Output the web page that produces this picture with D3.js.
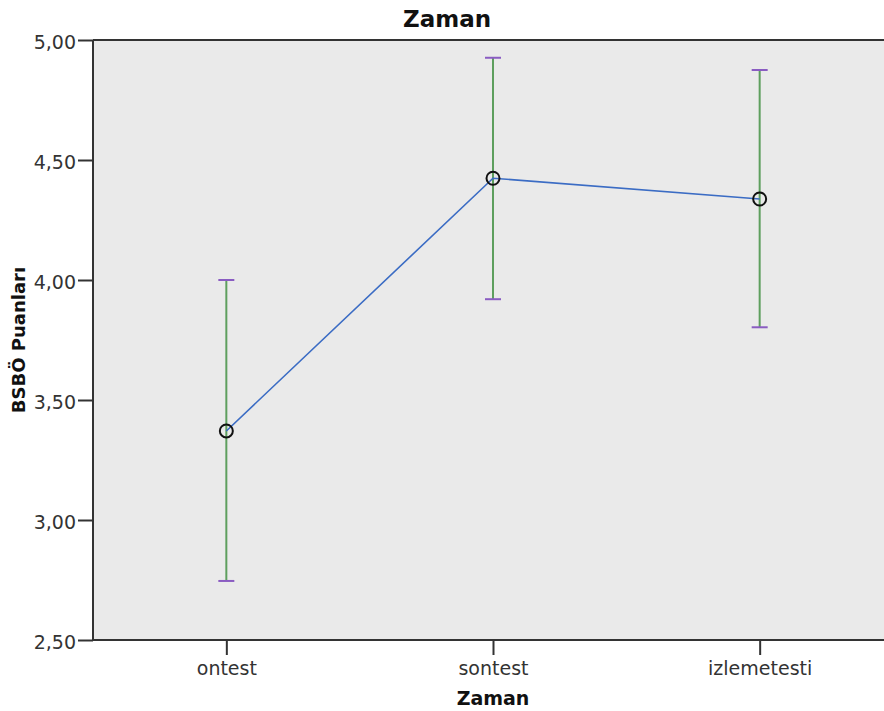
<!DOCTYPE html>
<html><head><meta charset="utf-8">
<script src="https://cdn.jsdelivr.net/npm/d3@7"></script>
<style>body{margin:0;background:#fff}svg{display:block}</style>
</head><body>
<script>
const categories = ["ontest", "sontest", "izlemetesti"];
const means = [3.371, 4.424, 4.3375];
const lower = [2.746, 3.920, 3.803];
const upper = [4.000, 4.926, 4.875];
const yTicks = [2.5, 3.0, 3.5, 4.0, 4.5, 5.0];
const title = "Zaman";
const xTitle = "Zaman";
const yTitle = "BSBÖ Puanları";

const W = 884, H = 711;
const m = {left: 93, top: 40, right: 893, bottom: 640};
const svg = d3.select("body").append("svg").attr("width", W).attr("height", H);
const x = d3.scalePoint().domain(categories).range([m.left, m.right]).padding(0.5);
const y = d3.scaleLinear().domain([2.5, 5]).range([m.bottom, m.top]);
const fmt = d => d3.format(".2f")(d).replace(".", ",");
const font = "DejaVu Sans, sans-serif";

svg.append("rect").attr("x", m.left).attr("y", m.top)
  .attr("width", m.right - m.left).attr("height", m.bottom - m.top).attr("fill", "#eaeaea");

const yAxis = svg.append("g").attr("transform", `translate(${m.left},0)`)
  .call(d3.axisLeft(y).tickValues(yTicks).tickFormat(fmt).tickSize(15).tickPadding(2));
const xAxis = svg.append("g").attr("transform", `translate(0,${m.bottom})`)
  .call(d3.axisBottom(x).tickSize(15).tickPadding(7));
[yAxis, xAxis].forEach(g => {
  g.select(".domain").attr("stroke", "#333").attr("stroke-width", 2);
  g.selectAll(".tick line").attr("stroke", "#333").attr("stroke-width", 2);
  g.selectAll("text").attr("fill", "#333").style("font-family", font).style("font-size", "19px");
});
yAxis.select(".domain").attr("d", `M0,${m.bottom}V${m.top}`);
xAxis.select(".domain").attr("d", `M${m.left},0H${m.right}`);
yAxis.selectAll(".tick text").attr("dy", "0.45em");
// top border
svg.append("line").attr("x1", m.left).attr("x2", m.right).attr("y1", m.top).attr("y2", m.top)
  .attr("stroke", "#333").attr("stroke-width", 2);

const idx = d3.range(categories.length);
const eb = svg.append("g");
eb.selectAll("line.bar").data(idx).join("line")
  .attr("x1", i => x(categories[i])).attr("x2", i => x(categories[i]))
  .attr("y1", i => y(lower[i])).attr("y2", i => y(upper[i]))
  .attr("stroke", "#5e9f5e").attr("stroke-width", 2);
[lower, upper].forEach(arr => {
  eb.append("g").selectAll("line").data(idx).join("line")
    .attr("x1", i => x(categories[i]) - 8).attr("x2", i => x(categories[i]) + 8)
    .attr("y1", i => y(arr[i])).attr("y2", i => y(arr[i]))
    .attr("stroke", "#8a5cc2").attr("stroke-width", 2);
});

svg.append("path").datum(idx)
  .attr("d", d3.line().x(i => x(categories[i])).y(i => y(means[i])))
  .attr("fill", "none").attr("stroke", "#3b6cc4").attr("stroke-width", 1.6);

svg.append("g").selectAll("circle").data(idx).join("circle")
  .attr("cx", i => x(categories[i])).attr("cy", i => y(means[i])).attr("r", 6.5)
  .attr("fill", "none").attr("stroke", "#111").attr("stroke-width", 2);

svg.append("text").attr("x", 447).attr("y", 27).attr("text-anchor", "middle")
  .style("font-family", font).style("font-weight", "bold").style("font-size", "23px")
  .attr("fill", "#111").text(title);
svg.append("text").attr("x", (m.left + m.right) / 2).attr("y", 705).attr("text-anchor", "middle")
  .style("font-family", font).style("font-weight", "bold").style("font-size", "19px")
  .attr("fill", "#111").text(xTitle);
svg.append("text").attr("transform", `translate(25,${(m.top + m.bottom) / 2}) rotate(-90)`)
  .attr("text-anchor", "middle")
  .style("font-family", font).style("font-weight", "bold").style("font-size", "18px")
  .attr("fill", "#111").text(yTitle);
</script>
</body></html>
